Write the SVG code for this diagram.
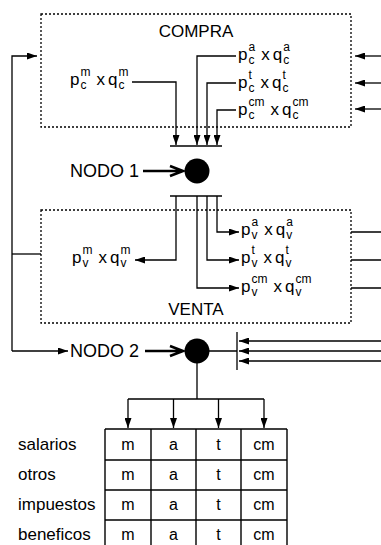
<svg xmlns="http://www.w3.org/2000/svg" width="381" height="545" viewBox="0 0 381 545">
<defs>
<style>
.t{font-family:"Liberation Sans",Arial,Helvetica,sans-serif;font-size:17px;fill:#000}
.s{font-size:12px}
.n{font-size:18px}
.c{text-anchor:middle}
.box{fill:none;stroke:#000;stroke-width:1.3;stroke-dasharray:2 2}
.ln{fill:none;stroke:#000;stroke-width:1.3}
.a{marker-end:url(#ah)}
.thick{fill:none;stroke:#000;stroke-width:2.6}
.tb{fill:none;stroke:#000;stroke-width:1.4}
</style>
<marker id="ah" viewBox="0 0 10 7" refX="10" refY="3.5" markerWidth="10" markerHeight="7" orient="auto" markerUnits="userSpaceOnUse">
<path d="M0,0 L10,3.5 L0,7 z" fill="#000"/>
</marker>
</defs>
<rect width="381" height="545" fill="#fff"/>

<g id="compra">
<rect class="box" x="41" y="14" width="310" height="113"/>
<text class="t c" x="196" y="37">COMPRA</text>
<text class="t"><tspan x="70" y="85">p</tspan><tspan class="s" x="80.5" y="76">m</tspan><tspan class="s" x="80.5" y="89">c</tspan><tspan x="96.5" y="85">x</tspan><tspan x="108" y="85">q</tspan><tspan class="s" x="118.5" y="76">m</tspan><tspan class="s" x="118.5" y="89">c</tspan></text>
<text class="t"><tspan x="238" y="60">p</tspan><tspan class="s" x="248.5" y="51">a</tspan><tspan class="s" x="248.5" y="64">c</tspan><tspan x="261.2" y="60">x</tspan><tspan x="272.7" y="60">q</tspan><tspan class="s" x="283.2" y="51">a</tspan><tspan class="s" x="283.2" y="64">c</tspan></text>
<text class="t"><tspan x="238" y="88">p</tspan><tspan class="s" x="248.5" y="79">t</tspan><tspan class="s" x="248.5" y="92">c</tspan><tspan x="260.5" y="88">x</tspan><tspan x="272" y="88">q</tspan><tspan class="s" x="282.5" y="79">t</tspan><tspan class="s" x="282.5" y="92">c</tspan></text>
<text class="t"><tspan x="238" y="115">p</tspan><tspan class="s" x="248.5" y="106">cm</tspan><tspan class="s" x="248.5" y="119">c</tspan><tspan x="270.5" y="115">x</tspan><tspan x="282" y="115">q</tspan><tspan class="s" x="292.5" y="106">cm</tspan><tspan class="s" x="292.5" y="119">c</tspan></text>
</g>

<g id="nodo1">
<circle cx="197" cy="171" r="12.5" fill="#000"/>
<text class="t n" x="70" y="177">NODO 1</text>
</g>

<g id="venta">
<rect class="box" x="41" y="210" width="310" height="113"/>
<text class="t c" x="196" y="315">VENTA</text>
<text class="t"><tspan x="72" y="263">p</tspan><tspan class="s" x="82.5" y="254">m</tspan><tspan class="s" x="82.5" y="267">v</tspan><tspan x="98.5" y="263">x</tspan><tspan x="110" y="263">q</tspan><tspan class="s" x="120.5" y="254">m</tspan><tspan class="s" x="120.5" y="267">v</tspan></text>
<text class="t"><tspan x="241" y="235">p</tspan><tspan class="s" x="251.5" y="226">a</tspan><tspan class="s" x="251.5" y="239">v</tspan><tspan x="264.2" y="235">x</tspan><tspan x="275.7" y="235">q</tspan><tspan class="s" x="286.2" y="226">a</tspan><tspan class="s" x="286.2" y="239">v</tspan></text>
<text class="t"><tspan x="241" y="263">p</tspan><tspan class="s" x="251.5" y="254">t</tspan><tspan class="s" x="251.5" y="267">v</tspan><tspan x="263.5" y="263">x</tspan><tspan x="275" y="263">q</tspan><tspan class="s" x="285.5" y="254">t</tspan><tspan class="s" x="285.5" y="267">v</tspan></text>
<text class="t"><tspan x="241" y="292">p</tspan><tspan class="s" x="251.5" y="283">cm</tspan><tspan class="s" x="251.5" y="296">v</tspan><tspan x="273.5" y="292">x</tspan><tspan x="285" y="292">q</tspan><tspan class="s" x="295.5" y="283">cm</tspan><tspan class="s" x="295.5" y="296">v</tspan></text>
</g>

<g id="nodo2">
<circle cx="197" cy="351" r="12.5" fill="#000"/>
<text class="t n" x="70" y="357">NODO 2</text>
</g>

<g id="tabla">
<path class="tb" d="M105,429 H287 M105,460 H287 M105,490 H287 M105,520 H287 M105,429 V550 M151,429 V550 M196,429 V550 M241,429 V550 M287,429 V550"/>
<g class="t">
<text x="18" y="450">salarios</text>
<text x="18" y="480">otros</text>
<text x="18" y="510">impuestos</text>
<text x="18" y="540">beneficos</text>
</g>
<g class="t c" style="font-size:16px">
<text x="128" y="450">m</text><text x="173.5" y="450">a</text><text x="218.5" y="450">t</text><text x="264" y="450">cm</text>
<text x="128" y="480">m</text><text x="173.5" y="480">a</text><text x="218.5" y="480">t</text><text x="264" y="480">cm</text>
<text x="128" y="510">m</text><text x="173.5" y="510">a</text><text x="218.5" y="510">t</text><text x="264" y="510">cm</text>
<text x="128" y="540">m</text><text x="173.5" y="540">a</text><text x="218.5" y="540">t</text><text x="264" y="540">cm</text>
</g>
</g>

<g id="connectors">
<path class="ln a" d="M132,82 H176 V145"/>
<path class="ln a" d="M236,56 H197 V145"/>
<path class="ln a" d="M236,83 H207 V145"/>
<path class="ln a" d="M236,110 H217 V145"/>
<path class="ln" d="M170,146 H222"/>
<path class="ln a" d="M381,56 H355"/>
<path class="ln a" d="M381,83 H355"/>
<path class="ln a" d="M381,109 H355"/>
<path class="ln a" d="M12,351 V56 H37"/>
<path class="ln a" d="M12,351 H68"/>
<path class="ln" d="M12,254 H41"/>
<path class="thick" d="M143,171 H182 M170,166 L183,171 L170,176"/>
<path class="ln" d="M170,196 H222"/>
<path class="ln a" d="M176,196 V260 H135"/>
<path class="ln a" d="M197,196 V288 H239"/>
<path class="ln a" d="M207,196 V260 H239"/>
<path class="ln a" d="M217,196 V232 H239"/>
<path class="ln" d="M351,232 H381 M351,260 H381 M351,288 H381"/>
<path class="thick" d="M145,351 H182 M170,346 L183,351 L170,356"/>
<path class="ln" d="M209,351 H237 M237,332 V370"/>
<path class="ln a" d="M381,341 H239"/>
<path class="ln a" d="M381,351 H239"/>
<path class="ln a" d="M381,361 H239"/>
<path class="ln" d="M197,363 V399 M128,399 H264"/>
<path class="ln a" d="M128,399 V428"/>
<path class="ln a" d="M173.5,399 V428"/>
<path class="ln a" d="M218.5,399 V428"/>
<path class="ln a" d="M264,399 V428"/>
</g>
</svg>
